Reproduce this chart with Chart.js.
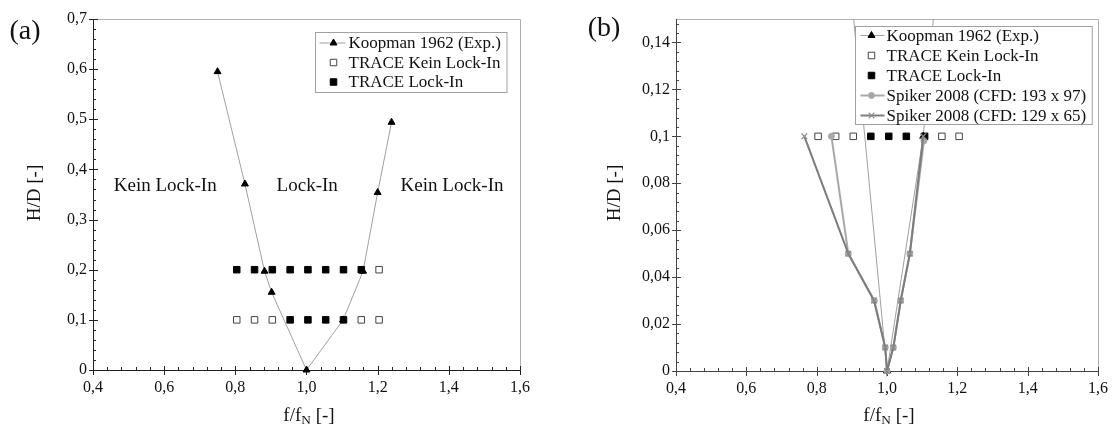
<!DOCTYPE html>
<html>
<head>
<meta charset="utf-8">
<script src="https://cdn.jsdelivr.net/npm/chart.js@4.4.1/dist/chart.umd.min.js"></script>
<style>
  html, body { margin: 0; padding: 0; background: #fff; }
  body { width: 1117px; height: 427px; position: relative; overflow: hidden;
         font-family: "Liberation Serif", serif; color: #111; }
  .box { position: absolute; top: 0; height: 427px; }
  #boxA { left: 0; width: 560px; }
  #boxB { left: 560px; width: 557px; }
  .lbl { position: absolute; transform: translate(-50%, -50%); white-space: nowrap; line-height: 1; }
  .panel { font-size: 28px; }
  .axt { font-size: 19px; }
  .rot { transform: translate(-50%, -50%) rotate(-90deg); }
  sub { font-size: 70%; vertical-align: -0.3em; line-height: 0; }
</style>
</head>
<body>
<div class="box" id="boxA"><canvas id="chartA"></canvas></div>
<div class="box" id="boxB"><canvas id="chartB"></canvas></div>
<div class="lbl panel" style="left:25px;top:30px">(a)</div>
<div class="lbl panel" style="left:604px;top:27px">(b)</div>
<div class="lbl axt rot" style="left:33px;top:193px">H/D [-]</div>
<div class="lbl axt rot" style="left:613px;top:193px">H/D [-]</div>
<div class="lbl axt" style="left:309px;top:414px">f/f<sub>N</sub> [-]</div>
<div class="lbl axt" style="left:889px;top:414px">f/f<sub>N</sub> [-]</div>
<script>
// values
const koopmanF = [0.75, 0.827, 0.882, 0.902, 1.0, 1.103, 1.159, 1.2, 1.239];
const koopmanH = [0.595, 0.371, 0.197, 0.155, 0, 0.1, 0.197, 0.354, 0.494];

// (a) TRACE runs
const freeF_a = [0.804, 0.854, 0.904, 1.154, 1.204, 1.204];
const freeH_a = [0.1, 0.1, 0.1, 0.1, 0.1, 0.2];
const lockF_a = [0.804, 0.854, 0.904, 0.954, 1.004, 1.054, 1.104, 1.154, 0.954, 1.004, 1.054, 1.104];
const lockH_a = [0.2, 0.2, 0.2, 0.2, 0.2, 0.2, 0.2, 0.2, 0.1, 0.1, 0.1, 0.1];

// (b) TRACE runs
const freeF_b = [0.804, 0.854, 0.904, 1.156, 1.205];
const freeH_b = [0.1, 0.1, 0.1, 0.1, 0.1];
const lockF_b = [0.954, 1.005, 1.055, 1.107];
const lockH_b = [0.1, 0.1, 0.1, 0.1];

// Spiker 2008
const spikerFineF = [0.842, 0.89, 0.964, 0.995, 1.0, 1.018, 1.039, 1.065, 1.105];
const spikerFineH = [0.1, 0.05, 0.03, 0.01, 0, 0.01, 0.03, 0.05, 0.098];
const spikerCoarseF = [0.765, 0.89, 0.963, 0.995, 1.0, 1.018, 1.039, 1.065, 1.103];
const spikerCoarseH = [0.1, 0.05, 0.03, 0.01, 0, 0.01, 0.03, 0.05, 0.1];

// region labels in (a)
const regionText = ['Kein Lock-In', 'Lock-In', 'Kein Lock-In'];
const regionF = [0.603, 1.002, 1.409];
const regionH = [0.366, 0.366, 0.366];

const SERIF = '"Liberation Serif", serif';

function pts (f, h) {
    return f.map((v, i) => ({x: v, y: h[i]}))
}

function fmtY (v) {
    return parseFloat(v.toFixed(3)).toString().replace('.', ',')
}
function fmtX (v) {
    return v.toFixed(1).replace('.', ',')
}

const clipBottom = {left: 0, top: 0, right: 0, bottom: 6};

function koopman () {
    return {
        label: 'Koopman 1962 (Exp.)', data: pts(koopmanF, koopmanH),
        borderColor: '#a0a0a0', borderWidth: 1, tension: 0,
        pointStyle: 'triangle', pointRadius: 4, pointBackgroundColor: '#000',
        pointBorderColor: '#000', pointBorderWidth: 1, order: 5, clip: clipBottom
    }
}
function free (f, h) {
    return {
        label: 'TRACE Kein Lock-In', data: pts(f, h), showLine: false,
        pointStyle: 'rect', pointRadius: 4.6, pointBackgroundColor: '#fff',
        pointBorderColor: '#444', pointBorderWidth: 1, order: 4
    }
}
function lock (f, h) {
    return {
        label: 'TRACE Lock-In', data: pts(f, h), showLine: false,
        pointStyle: 'rect', pointRadius: 4.6, pointBackgroundColor: '#000',
        pointBorderColor: '#000', pointBorderWidth: 1, order: 3
    }
}

// axes, frame and minor ticks
const framePlugin = {
    id: 'frame',
    beforeDatasetsDraw (chart, args, o) {
        const {ctx, chartArea: a, scales: {x, y}} = chart;
        ctx.save();
        ctx.lineWidth = 1;
        ctx.strokeStyle = '#b0b0b0';
        ctx.beginPath();
        ctx.moveTo(a.left, a.top + 0.5);
        ctx.lineTo(a.right + 0.5, a.top + 0.5);
        ctx.lineTo(a.right + 0.5, a.bottom);
        ctx.stroke();
        ctx.strokeStyle = o.color;
        ctx.beginPath();
        ctx.moveTo(a.left + 0.5, a.top);
        ctx.lineTo(a.left + 0.5, a.bottom + 0.5);
        ctx.lineTo(a.right, a.bottom + 0.5);
        // x ticks
        let n = Math.round((x.max - x.min) / o.xMinor);
        for (let i = 0; i <= n; i++) {
            const px = Math.round(x.getPixelForValue(x.min + i * o.xMinor)) + 0.5;
            const major = i % o.xEvery === 0;
            ctx.moveTo(px, a.bottom - (major ? 4 : 3));
            ctx.lineTo(px, a.bottom + (major ? 5 : 0));
        }
        n = Math.floor((y.max - y.min) / o.yMinor + 1e-6);
        for (let i = 0; i <= n; i++) {
            const py = Math.round(y.getPixelForValue(y.min + i * o.yMinor)) + 0.5;
            const major = i % o.yEvery === 0;
            ctx.moveTo(a.left - (major ? 4 : 0), py);
            ctx.lineTo(a.left + (major ? 5 : 3), py);
        }
        ctx.stroke();
        ctx.restore();
    }
};

// region texts
const notesPlugin = {
    id: 'notes',
    afterDatasetsDraw (chart, args, o) {
        if (!o.text) return;
        const {ctx, scales: {x, y}} = chart;
        ctx.save();
        ctx.font = '19px ' + SERIF;
        ctx.fillStyle = '#111';
        ctx.textAlign = 'center';
        ctx.textBaseline = 'middle';
        o.text.forEach((t, i) => ctx.fillText(t, x.getPixelForValue(o.f[i]), y.getPixelForValue(o.h[i])));
        ctx.restore();
    }
};

// boxed legend inside the plot
const boxLegend = {
    id: 'boxLegend',
    afterDatasetsDraw (chart, args, o) {
        const {ctx, chartArea: a} = chart;
        const sets = chart.data.datasets;
        ctx.save();
        ctx.font = '17px ' + SERIF;
        let tw = 0;
        sets.forEach(d => { tw = Math.max(tw, ctx.measureText(d.label).width) });
        const w = o.textOff + tw + 6;
        const h = o.first * 2 + (sets.length - 1) * o.rowH;
        const left = Math.round(a.right - o.right - w) + 0.5;
        const top = Math.round(a.top + o.top) + 0.5;
        ctx.fillStyle = '#fff';
        ctx.fillRect(left, top, w, h);
        ctx.strokeStyle = '#a0a0a0';
        ctx.lineWidth = 1;
        ctx.strokeRect(left, top, w, h);
        sets.forEach((d, i) => {
            const cy = top + o.first + i * o.rowH;
            if (d.showLine !== false) {
                ctx.strokeStyle = d.borderColor;
                ctx.lineWidth = d.borderWidth;
                ctx.beginPath();
                ctx.moveTo(left + o.lineFrom, cy);
                ctx.lineTo(left + o.lineTo, cy);
                ctx.stroke();
            }
            ctx.fillStyle = d.pointBackgroundColor;
            ctx.strokeStyle = d.pointBorderColor;
            ctx.lineWidth = d.pointBorderWidth;
            Chart.helpers.drawPoint(ctx, {pointStyle: d.pointStyle, radius: d.pointRadius,
                borderWidth: d.pointBorderWidth, rotation: 0}, left + o.mark, cy);
            ctx.fillStyle = '#111';
            ctx.textBaseline = 'middle';
            ctx.fillText(d.label, left + o.textOff, cy + 1);
        });
        ctx.restore();
    }
};

function axes (yMax, yStep, yWidth, xHeight) {
    const tickFont = {family: SERIF, size: 16};
    return {
        x: {
            type: 'linear', min: 0.4, max: 1.6,
            ticks: {stepSize: 0.2, callback: fmtX, font: tickFont, color: '#111', padding: 8, maxRotation: 0, autoSkip: false},
            grid: {display: false, drawTicks: false}, border: {display: false},
            afterFit: s => { s.height = xHeight }
        },
        y: {
            min: 0, max: yMax,
            ticks: {stepSize: yStep, callback: fmtY, font: tickFont, color: '#111', padding: 6, autoSkip: false},
            grid: {display: false, drawTicks: false}, border: {display: false},
            afterBuildTicks: s => { s.ticks = s.ticks.filter(t => t.value <= yMax - yStep / 2 + 1e-9 || Math.abs(yMax / yStep - Math.round(yMax / yStep)) < 1e-6) },
            afterFit: s => { s.width = yWidth }
        }
    }
}

Chart.register(framePlugin, notesPlugin, boxLegend);

new Chart(document.getElementById('chartA'), {
    type: 'line',
    data: {
        datasets: [koopman(), free(freeF_a, freeH_a), lock(lockF_a, lockH_a)]
    },
    options: {
        responsive: true, maintainAspectRatio: false, animation: false, events: [],
        layout: {padding: {left: 0, top: 19, right: 40, bottom: 0}},
        scales: axes(0.7, 0.1, 93, 57),
        plugins: {
            legend: {display: false}, tooltip: {enabled: false},
            frame: {color: '#222', xMinor: 0.04, xEvery: 5, yMinor: 0.02, yEvery: 5},
            notes: {text: regionText, f: regionF, h: regionH},
            boxLegend: {right: 13, top: 13, rowH: 19.5, first: 10.5, lineFrom: 4, lineTo: 30, mark: 18, textOff: 33}
        }
    }
});

new Chart(document.getElementById('chartB'), {
    type: 'line',
    data: {
        datasets: [
            koopman(), free(freeF_b, freeH_b), lock(lockF_b, lockH_b),
            {
                label: 'Spiker 2008 (CFD: 193 x 97)', data: pts(spikerFineF, spikerFineH),
                borderColor: '#a8a8a8', borderWidth: 2, tension: 0,
                pointStyle: 'circle', pointRadius: 3, pointBackgroundColor: '#a8a8a8',
                pointBorderColor: '#a8a8a8', pointBorderWidth: 1, order: 2, clip: clipBottom
            },
            {
                label: 'Spiker 2008 (CFD: 129 x 65)', data: pts(spikerCoarseF, spikerCoarseH),
                borderColor: '#7c7c7c', borderWidth: 2, tension: 0,
                pointStyle: 'crossRot', pointRadius: 4, pointBackgroundColor: '#8c8c8c',
                pointBorderColor: '#8c8c8c', pointBorderWidth: 1.2, order: 1, clip: clipBottom
            }
        ]
    },
    options: {
        responsive: true, maintainAspectRatio: false, animation: false, events: [],
        layout: {padding: {left: 0, top: 19, right: 19, bottom: 0}},
        scales: axes(0.15, 0.02, 116, 56),
        plugins: {
            legend: {display: false}, tooltip: {enabled: false},
            frame: {color: '#444', xMinor: 0.04, xEvery: 5, yMinor: 0.004, yEvery: 5},
            notes: {},
            boxLegend: {right: 6, top: 7, rowH: 20, first: 9, lineFrom: 5, lineTo: 29, mark: 16, textOff: 31}
        }
    }
});
</script>
</body>
</html>
